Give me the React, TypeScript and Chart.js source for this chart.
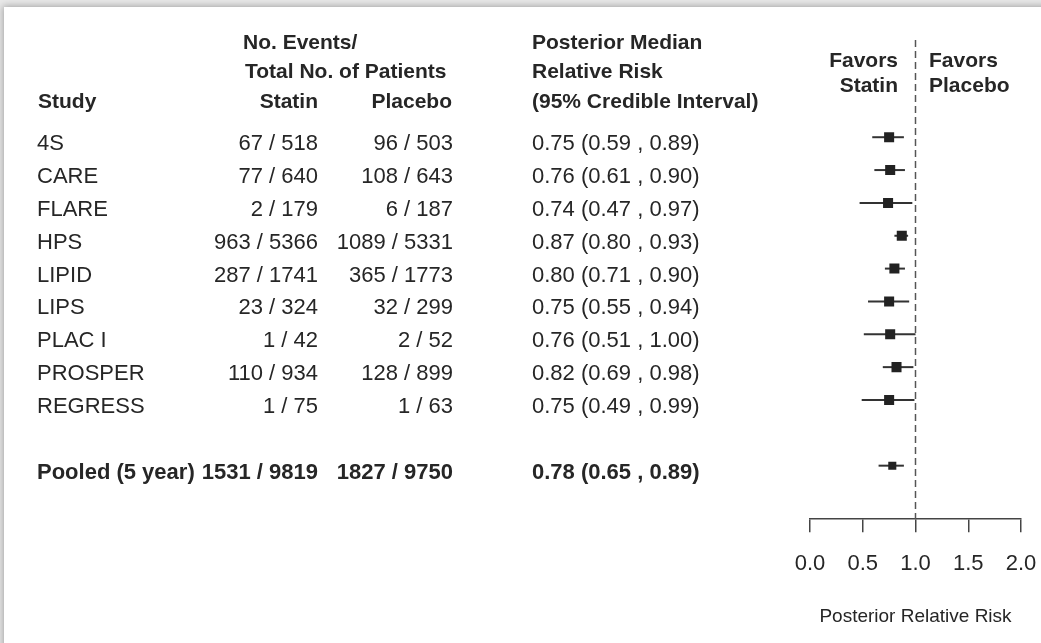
import React, { useEffect, useRef } from "react";
import { Chart, registerables } from "chart.js";

Chart.register(...registerables);

const studies = ["4S", "CARE", "FLARE", "HPS", "LIPID", "LIPS", "PLAC I", "PROSPER", "REGRESS"];
const statinEvents = [67, 77, 2, 963, 287, 23, 1, 110, 1];
const statinTotals = [518, 640, 179, 5366, 1741, 324, 42, 934, 75];
const placeboEvents = [96, 108, 6, 1089, 365, 32, 2, 128, 1];
const placeboTotals = [503, 643, 187, 5331, 1773, 299, 52, 899, 63];
const medians = [0.75, 0.76, 0.74, 0.87, 0.8, 0.75, 0.76, 0.82, 0.75];
const lowers = [0.59, 0.61, 0.47, 0.8, 0.71, 0.55, 0.51, 0.69, 0.49];
const uppers = [0.89, 0.9, 0.97, 0.93, 0.9, 0.94, 1.0, 0.98, 0.99];

const pooledLabel = "Pooled (5 year)";
const pooledStatin = [1531, 9819];
const pooledPlacebo = [1827, 9750];
const pooledMedian = 0.78;
const pooledLower = 0.65;
const pooledUpper = 0.89;
const pooledRow = 10;

const xTicks = [0, 0.5, 1, 1.5, 2];

const FONT = "'Liberation Sans', Arial, Helvetica, sans-serif";
const TEXT = "#262626";

const fmt = (v: number) => v.toFixed(2);
const ciText = (m: number, l: number, u: number) => `${fmt(m)} (${fmt(l)} , ${fmt(u)})`;

export default function App() {
  const ref = useRef<HTMLCanvasElement | null>(null);

  useEffect(() => {
    const canvas = ref.current;
    if (!canvas) return;

    const points = studies.map((_, i) => ({ x: medians[i], y: i, lo: lowers[i], hi: uppers[i] }));
    points.push({ x: pooledMedian, y: pooledRow, lo: pooledLower, hi: pooledUpper });

    const yMin = -2.96;
    const yMax = 11.63;

    const tablePlugin = {
      id: "forestTable",
      beforeDatasetsDraw(chart: any) {
        const { ctx, scales } = chart;
        const xs = scales.x;
        const ys = scales.y;
        ctx.save();
        ctx.strokeStyle = "#333";
        ctx.lineWidth = 2;
        points.forEach((p) => {
          const y = ys.getPixelForValue(p.y);
          ctx.beginPath();
          ctx.moveTo(xs.getPixelForValue(p.lo), y);
          ctx.lineTo(xs.getPixelForValue(p.hi), y);
          ctx.stroke();
        });
        ctx.restore();
      },
      afterDraw(chart: any) {
        const { ctx, scales } = chart;
        const ys = scales.y;
        ctx.save();
        ctx.fillStyle = TEXT;
        ctx.textBaseline = "alphabetic";

        // headers
        ctx.font = `bold 21px ${FONT}`;
        ctx.textAlign = "left";
        ctx.fillText("No. Events/", 243, 49);
        ctx.fillText("Total No. of Patients", 245, 78);
        ctx.fillText("Posterior Median", 532, 49);
        ctx.fillText("Relative Risk", 532, 78);
        ctx.fillText("Study", 38, 108);
        ctx.fillText("(95% Credible Interval)", 532, 108);
        ctx.textAlign = "right";
        ctx.fillText("Statin", 318, 108);
        ctx.fillText("Placebo", 452, 108);
        ctx.fillText("Favors", 898, 67);
        ctx.fillText("Statin", 898, 92);
        ctx.textAlign = "left";
        ctx.fillText("Favors", 929, 67);
        ctx.fillText("Placebo", 929, 92);

        // rows
        ctx.font = `22px ${FONT}`;
        studies.forEach((s, i) => {
          const y = ys.getPixelForValue(i) + 13;
          ctx.textAlign = "left";
          ctx.fillText(s, 37, y);
          ctx.fillText(ciText(medians[i], lowers[i], uppers[i]), 532, y);
          ctx.textAlign = "right";
          ctx.fillText(`${statinEvents[i]} / ${statinTotals[i]}`, 318, y);
          ctx.fillText(`${placeboEvents[i]} / ${placeboTotals[i]}`, 453, y);
        });

        ctx.font = `bold 22px ${FONT}`;
        const py = ys.getPixelForValue(pooledRow) + 13;
        ctx.textAlign = "left";
        ctx.fillText(pooledLabel, 37, py);
        ctx.fillText(ciText(pooledMedian, pooledLower, pooledUpper), 532, py);
        ctx.textAlign = "right";
        ctx.fillText(`${pooledStatin[0]} / ${pooledStatin[1]}`, 318, py);
        ctx.fillText(`${pooledPlacebo[0]} / ${pooledPlacebo[1]}`, 453, py);
        ctx.restore();
      },
    };

    const chart = new Chart(canvas, {
      type: "scatter",
      data: {
        datasets: [
          {
            data: [
              { x: 1, y: yMin },
              { x: 1, y: yMax },
            ],
            showLine: true,
            borderColor: "#555",
            borderWidth: 1.5,
            borderDash: [7, 4],
            pointRadius: 0,
            order: 2,
          },
          {
            data: points,
            pointStyle: "rect",
            pointRadius: points.map((p) => (p.y === pooledRow ? 5.7 : 7.1)),
            backgroundColor: "#222",
            borderColor: "#222",
            borderWidth: 0,
            showLine: false,
            order: 1,
          },
        ],
      },
      options: {
        animation: false,
        responsive: false,
        maintainAspectRatio: false,
        layout: { padding: { left: 810, right: 20, top: 40, bottom: 14.6 } },
        plugins: { legend: { display: false }, tooltip: { enabled: false } },
        scales: {
          x: {
            type: "linear",
            min: 0,
            max: 2,
            afterBuildTicks: (scale: any) => {
              scale.ticks = xTicks.map((v) => ({ value: v }));
            },
            afterFit: (scale: any) => {
              scale.paddingLeft = 0;
              scale.paddingRight = 0;
            },
            grid: {
              display: true,
              drawOnChartArea: false,
              drawTicks: true,
              tickLength: 13,
              color: "#444",
              lineWidth: 1.5,
            },
            border: { display: true, color: "#444", width: 1.5 },
            ticks: {
              color: TEXT,
              font: { family: FONT, size: 22 },
              padding: 19,
              callback: (v: any) => Number(v).toFixed(1),
            },
            title: {
              display: true,
              text: "Posterior Relative Risk",
              color: TEXT,
              font: { family: FONT, size: 19 },
              padding: { top: 9, bottom: 0 },
            },
          },
          y: {
            type: "linear",
            display: false,
            reverse: true,
            min: yMin,
            max: yMax,
          },
        },
      },
      plugins: [tablePlugin],
    } as any);

    return () => chart.destroy();
  }, []);

  return (
    <div
      style={{
        position: "fixed",
        left: 0,
        top: 0,
        width: 1041,
        height: 643,
        background: "#e9e9e9",
        overflow: "hidden",
      }}
    >
      <div
        style={{
          position: "absolute",
          left: 4,
          top: 7,
          width: 1100,
          height: 700,
          background: "#fff",
          boxShadow: "0 0 7px 1px rgba(0,0,0,0.3)",
        }}
      />
      <canvas ref={ref} width={1041} height={643} style={{ position: "absolute", left: 0, top: 0 }} />
    </div>
  );
}
